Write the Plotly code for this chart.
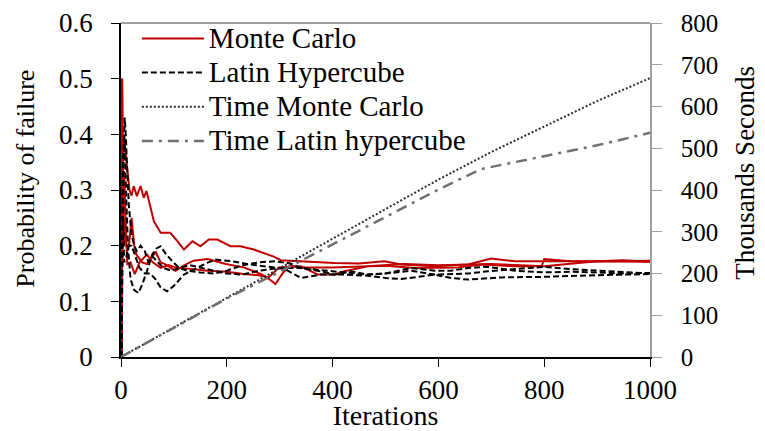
import plotly.graph_objects as go

# probability of failure, Monte Carlo runs (iteration, estimate)
mc1_x = [1, 2, 3, 5, 8, 12, 16, 20, 24, 30, 37, 43, 48, 56, 62, 75, 93, 105, 119, 135, 150, 166, 182, 207,
         226, 251, 270, 290, 302, 340, 378, 403, 450, 498, 530, 593, 656, 700, 745, 800, 850, 900, 948, 1000]
mc1_y = [0, 0.5, 0.333, 0.4, 0.375, 0.333, 0.3, 0.29, 0.307, 0.289, 0.307, 0.286, 0.298, 0.268, 0.244, 0.223,
         0.223, 0.21, 0.193, 0.208, 0.199, 0.211, 0.211, 0.199, 0.199, 0.193, 0.187, 0.18, 0.174, 0.172, 0.171,
         0.169, 0.168, 0.172, 0.166, 0.163, 0.166, 0.177, 0.172, 0.172, 0.171, 0.172, 0.174, 0.171]

mc2_x = [1, 2, 4, 6, 10, 15, 20, 25, 29, 40, 49, 58, 66, 75, 83, 103, 120, 137, 164, 198, 232, 265, 280, 292,
         306, 320, 333, 400, 466, 535, 600, 664, 700, 800, 900, 1000]
mc2_y = [0, 0.5, 0.25, 0.333, 0.2, 0.2, 0.25, 0.2, 0.184, 0.17, 0.167, 0.18, 0.188, 0.17, 0.167, 0.155, 0.165,
         0.173, 0.176, 0.167, 0.161, 0.149, 0.14, 0.131, 0.151, 0.165, 0.161, 0.161, 0.163, 0.167, 0.165, 0.166,
         0.167, 0.163, 0.172, 0.173]

mc3_x = [1, 2, 3, 5, 8, 12, 18, 26, 35, 49, 60, 75, 90, 103, 130, 164, 200, 232, 260, 279, 299, 340, 372, 403,
         422, 466, 500, 556, 637, 681, 745, 795, 800, 850, 1000]
mc3_y = [0, 0.5, 0.333, 0.2, 0.25, 0.167, 0.17, 0.149, 0.17, 0.184, 0.17, 0.16, 0.165, 0.161, 0.158, 0.155,
         0.153, 0.149, 0.147, 0.143, 0.161, 0.163, 0.148, 0.148, 0.154, 0.163, 0.164, 0.16, 0.161, 0.166, 0.163,
         0.163, 0.176, 0.172, 0.171]

# probability of failure, Latin hypercube runs
lh1_x = [1, 3, 5, 7, 9, 12, 15, 20, 25, 30, 37, 45, 52, 60, 70, 80, 95, 110, 130, 150, 175, 200, 230, 260, 300,
         340, 378, 403, 435, 466, 500, 549, 593, 624, 656, 694, 745, 800, 850, 900, 950, 1000]
lh1_y = [0, 0.2, 0.35, 0.43, 0.4, 0.33, 0.27, 0.22, 0.2, 0.19, 0.2, 0.19, 0.17, 0.18, 0.17, 0.16, 0.155, 0.16,
         0.165, 0.16, 0.155, 0.15, 0.148, 0.155, 0.16, 0.16, 0.154, 0.148, 0.154, 0.148, 0.15, 0.16, 0.155, 0.155,
         0.16, 0.162, 0.155, 0.152, 0.153, 0.152, 0.15, 0.151]

lh2_x = [1, 3, 6, 9, 13, 18, 25, 33, 40, 49, 59, 67, 75, 85, 97, 110, 125, 150, 176, 200, 230, 260, 290, 320,
         340, 378, 420, 466, 500, 549, 593, 656, 694, 745, 800, 850, 900, 950, 1000]
lh2_y = [0, 0.33, 0.4, 0.3, 0.2, 0.14, 0.12, 0.115, 0.13, 0.154, 0.184, 0.195, 0.199, 0.185, 0.172, 0.16, 0.155,
         0.152, 0.15, 0.155, 0.165, 0.17, 0.172, 0.168, 0.16, 0.156, 0.152, 0.148, 0.15, 0.155, 0.148, 0.15,
         0.154, 0.158, 0.162, 0.158, 0.155, 0.152, 0.15]

lh3_x = [1, 2, 4, 6, 10, 15, 20, 28, 35, 45, 55, 65, 75, 87, 100, 119, 135, 150, 165, 179, 210, 245, 280, 310,
         340, 378, 420, 466, 500, 530, 593, 624, 656, 681, 720, 800, 850, 900, 950, 1000]
lh3_y = [0, 0.2, 0.25, 0.17, 0.18, 0.2, 0.2, 0.18, 0.16, 0.15, 0.15, 0.14, 0.125, 0.118, 0.128, 0.148, 0.155,
         0.163, 0.17, 0.175, 0.172, 0.166, 0.162, 0.158, 0.142, 0.148, 0.148, 0.146, 0.142, 0.14, 0.148, 0.142,
         0.139, 0.141, 0.143, 0.144, 0.146, 0.147, 0.148, 0.149]

# computing time, thousands of seconds
time_mc_x = [0, 100, 200, 300, 400, 500, 600, 650, 700, 800, 900, 1000]
time_mc_y = [0, 71, 142, 212, 283, 354, 425, 458, 491, 552, 613, 668]

time_lh_x = [0, 100, 200, 300, 400, 500, 600, 680, 750, 800, 900, 1000]
time_lh_y = [0, 70, 140, 204, 270, 334, 401, 450, 468, 481, 507, 537]

FONT = "Liberation Serif"
RED = "#C00000"


def big(txt):
    # legend rows stay tight (base font 24) while the label itself is drawn larger
    return '<span style="font-size:29px">%s</span>' % txt


fig = go.Figure()

for i, (xs, ys) in enumerate([(mc1_x, mc1_y), (mc2_x, mc2_y), (mc3_x, mc3_y)]):
    fig.add_trace(go.Scatter(
        x=xs, y=ys, mode="lines", name=big("Monte Carlo"), legendgroup="mc", showlegend=(i == 0),
        line=dict(color=RED, width=2)
    ))

for i, (xs, ys) in enumerate([(lh1_x, lh1_y), (lh2_x, lh2_y), (lh3_x, lh3_y)]):
    fig.add_trace(go.Scatter(
        x=xs, y=ys, mode="lines", name=big("Latin Hypercube"), legendgroup="lh", showlegend=(i == 0),
        line=dict(color="black", width=2, dash="6px,3px")
    ))

fig.add_trace(go.Scatter(
    x=time_mc_x, y=time_mc_y, mode="lines", name=big("Time Monte Carlo"), yaxis="y2",
    line=dict(color="#303030", width=2, dash="2px,2px")
))
fig.add_trace(go.Scatter(
    x=time_lh_x, y=time_lh_y, mode="lines", name=big("Time Latin hypercube"), yaxis="y2",
    line=dict(color="#707070", width=2.5, dash="11px,6px,3px,6px")
))

tick_font = dict(family=FONT, size=27, color="black")

# page body adds an 8px offset, so the figure is 8px smaller than the window
fig.update_layout(
    width=757, height=423, autosize=False,
    paper_bgcolor="white", plot_bgcolor="white",
    margin=dict(l=113, r=115, t=15, b=74, autoexpand=False),
    font=dict(family=FONT, size=26, color="black"),
    showlegend=True,
    legend=dict(x=0.03, y=1.02, xanchor="left", yanchor="top", bgcolor="rgba(0,0,0,0)",
                font=dict(family=FONT, size=24, color="black"), itemwidth=62,
                tracegroupgap=0),
    xaxis=dict(
        range=[0, 1000], dtick=200, showgrid=False, zeroline=False, automargin=False,
        showline=True, linecolor="black", linewidth=1.5,
        ticks="outside", ticklen=8, tickcolor="black",
        tickfont=tick_font, ticklabeloverflow="allow",
        title=dict(text="Iterations", font=dict(family=FONT, size=28), standoff=3),
    ),
    yaxis=dict(
        range=[0, 0.6], dtick=0.1, showgrid=False, zeroline=False, automargin=False,
        showline=True, linecolor="black", linewidth=1.5,
        ticks="outside", ticklen=8, tickcolor="black",
        tickfont=tick_font, ticklabeloverflow="allow", ticklabelstandoff=13,
    ),
    yaxis2=dict(
        range=[0, 800], dtick=100, overlaying="y", side="right",
        showgrid=False, zeroline=False, automargin=False,
        showline=True, linecolor="#A0A0A0", linewidth=1.5,
        ticks="outside", ticklen=10, tickcolor="#A0A0A0",
        tickfont=dict(family=FONT, size=25, color="black"),
        ticklabeloverflow="allow", ticklabelstandoff=14,
    ),
    annotations=[
        dict(text="Probability of failure", textangle=-90, xref="paper", yref="paper",
             x=0, y=0.534, xshift=-95, xanchor="center", yanchor="middle", showarrow=False,
             font=dict(family=FONT, size=26, color="black")),
        dict(text="Thousands Seconds", textangle=-90, xref="paper", yref="paper",
             x=1, y=0.552, xshift=95, xanchor="center", yanchor="middle", showarrow=False,
             font=dict(family=FONT, size=27, color="black")),
    ],
    shapes=[dict(type="line", xref="paper", yref="paper", x0=0, x1=1, y0=1, y1=1,
                 line=dict(color="#808080", width=1.5))],
)

fig.write_html("out.html")
